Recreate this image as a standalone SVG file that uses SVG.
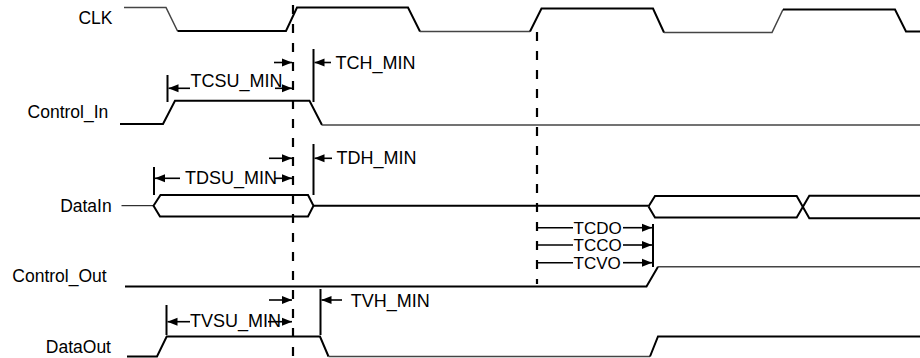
<svg xmlns="http://www.w3.org/2000/svg" width="920" height="358" viewBox="0 0 920 358">
<style>
.lbl{font-family:"Liberation Sans",Arial,sans-serif;font-size:17.5px;fill:#000;text-anchor:end}
.ann{font-family:"Liberation Sans",Arial,sans-serif;font-size:18px;fill:#000}
.ann2{font-family:"Liberation Sans",Arial,sans-serif;font-size:17px;fill:#000}
.sig{fill:none;stroke:#000;stroke-width:2;stroke-linejoin:miter}
.sigl{fill:none;stroke:#444;stroke-width:1.5}
.thin{fill:none;stroke:#000;stroke-width:1}
.dash{fill:none;stroke:#000;stroke-width:2.2;stroke-dasharray:9 10}
.bar{stroke:#000;stroke-width:2}
.dim{stroke:#000;stroke-width:1.6;fill:none}
</style>
<defs>
<marker id="ah" markerUnits="userSpaceOnUse" markerWidth="10" markerHeight="10" viewBox="0 0 10 10" refX="10" refY="5" orient="auto">
<path d="M0,1 L10,5 L0,9 Z" fill="#000"/>
</marker>
</defs>
<rect width="920" height="358" fill="#fff"/>

<g id="clk">
<text class="lbl" x="112.5" y="24.3">CLK</text>
<path class="sigl" d="M124,7.5 H166 L177.5,31"/>
<path class="sig" d="M177.5,31 H286 L297,7.5 H408 L420,31.5"/>
<path class="sigl" d="M420,31.5 H530"/>
<path class="sig" d="M530,31.5 L541.5,8.5 H653 L664,32.5"/>
<path class="sigl" d="M664,32.5 H772 L783,9.5"/>
<path class="sig" d="M783,9.5 H895 L906,31.5 H920"/>
</g>

<g id="control_in">
<text class="lbl" x="108.3" y="118.3">Control_In</text>
<path class="sig" d="M120,124 H163 L175,100.7 H309.5 L322,125"/>
<path class="sigl" d="M322,125 H920"/>
</g>

<g id="datain">
<text class="lbl" x="111.7" y="211.7">DataIn</text>
<path class="thin" d="M121.5,205.7 H153.5"/>
<path class="sig" d="M153.5,205.7 L160.5,195 H308 L313.5,205.7 L308,216.5 H160 Z"/>
<path class="sig" d="M313.5,205.7 H648.5"/>
<path class="sig" d="M648.5,206.5 L655,196 H796.7 L809.3,218.3 H920"/>
<path class="sig" d="M648.5,206.5 L655,217.5 H796.7 L809.3,195.7 H920"/>
</g>

<g id="control_out">
<text class="lbl" x="106.7" y="281.7">Control_Out</text>
<path class="sig" d="M125,286.5 H646.5 L658,266.7"/>
<path class="sigl" d="M658,266.7 H920"/>
</g>

<g id="dataout">
<text class="lbl" x="111" y="353.3">DataOut</text>
<path class="sig" d="M127,356.5 H157 L166.7,336.5 H320 L328.5,356.5"/>
<path class="sigl" d="M328.5,356.5 H650"/>
<path class="sig" d="M650,356.5 L658,336.5 H920"/>
</g>

<g id="clock_edges">
<line class="dash" x1="293" y1="5" x2="293" y2="356"/>
<line class="dash" x1="537" y1="32" x2="537" y2="284"/>
</g>

<g id="connectors">
<line class="bar" x1="167.5" y1="75" x2="167.5" y2="102"/>
<line class="dim" x1="190" y1="88.3" x2="168.5" y2="88.3" marker-end="url(#ah)"/>
<line class="dim" x1="275" y1="88.3" x2="292" y2="88.3" marker-end="url(#ah)"/>
<line class="dim" x1="274" y1="62.5" x2="292" y2="62.5" marker-end="url(#ah)"/>
<text class="ann" x="190.5" y="86.7">TCSU_MIN</text>
<line class="bar" x1="313.5" y1="49" x2="313.5" y2="102"/>
<line class="dim" x1="331" y1="62.5" x2="314.5" y2="62.5" marker-end="url(#ah)"/>
<text class="ann" x="335.5" y="68.5">TCH_MIN</text>
<line class="bar" x1="154" y1="167" x2="154" y2="195"/>
<line class="dim" x1="180" y1="178.3" x2="155" y2="178.3" marker-end="url(#ah)"/>
<line class="dim" x1="275" y1="178.3" x2="292" y2="178.3" marker-end="url(#ah)"/>
<line class="dim" x1="269" y1="158.3" x2="292" y2="158.3" marker-end="url(#ah)"/>
<text class="ann" x="185" y="183.6">TDSU_MIN</text>
<line class="bar" x1="313.5" y1="144" x2="313.5" y2="195"/>
<line class="dim" x1="332" y1="158.3" x2="314.5" y2="158.3" marker-end="url(#ah)"/>
<text class="ann" x="336.5" y="164">TDH_MIN</text>
<line class="bar" x1="166.5" y1="305" x2="166.5" y2="335"/>
<line class="dim" x1="190" y1="321.7" x2="167.5" y2="321.7" marker-end="url(#ah)"/>
<line class="dim" x1="268" y1="321.7" x2="292" y2="321.7" marker-end="url(#ah)"/>
<line class="dim" x1="269" y1="300" x2="292" y2="300" marker-end="url(#ah)"/>
<text class="ann" x="190" y="327">TVSU_MIN</text>
<line class="bar" x1="320.5" y1="289" x2="320.5" y2="335"/>
<line class="dim" x1="342" y1="300" x2="321.5" y2="300" marker-end="url(#ah)"/>
<text class="ann" x="350.7" y="306.5">TVH_MIN</text>
<line class="bar" x1="653" y1="224" x2="653" y2="267"/>
<line class="dim" x1="537" y1="227.7" x2="573" y2="227.7"/>
<line class="dim" x1="623" y1="227.7" x2="652" y2="227.7" marker-end="url(#ah)"/>
<text class="ann2" x="573.5" y="233.5">TCDO</text>
<line class="dim" x1="537" y1="245" x2="573" y2="245"/>
<line class="dim" x1="623" y1="245" x2="652" y2="245" marker-end="url(#ah)"/>
<text class="ann2" x="573.5" y="250.8">TCCO</text>
<line class="dim" x1="537" y1="262.7" x2="573" y2="262.7"/>
<line class="dim" x1="623" y1="262.7" x2="652" y2="262.7" marker-end="url(#ah)"/>
<text class="ann2" x="573.5" y="268.5">TCVO</text>
</g>
</svg>
